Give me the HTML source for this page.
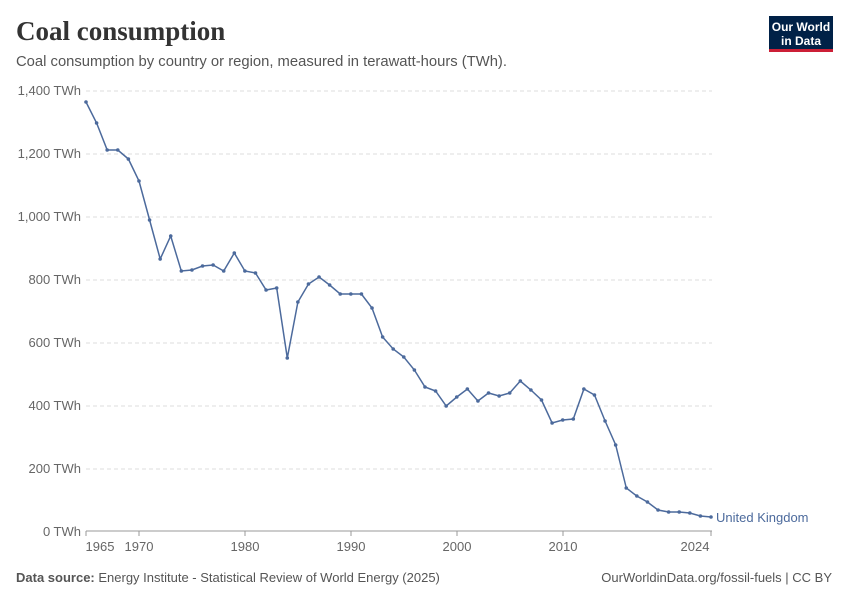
<!DOCTYPE html>
<html><head><meta charset="utf-8"><style>
body{margin:0;background:#fff;width:850px;height:600px;overflow:hidden;font-family:"Liberation Sans",sans-serif}
</style></head><body>
<svg width="850" height="600" xmlns="http://www.w3.org/2000/svg" font-family="Liberation Sans, sans-serif">
<text x="16" y="40" font-family="Liberation Serif, serif" font-size="27" font-weight="bold" fill="#333">Coal consumption</text>
<text x="16" y="66" font-size="14.8" fill="#555">Coal consumption by country or region, measured in terawatt-hours (TWh).</text>
<rect x="769" y="16" width="64" height="36" fill="#002147"/>
<rect x="769" y="49" width="64" height="3" fill="#cc1f36"/>
<text x="801" y="31" font-size="12" font-weight="bold" fill="#fff" text-anchor="middle">Our World</text>
<text x="801" y="45" font-size="12" font-weight="bold" fill="#fff" text-anchor="middle">in Data</text>
<g stroke="#ddd" stroke-dasharray="4,3">
<line x1="86" x2="712" y1="91" y2="91"/><line x1="86" x2="712" y1="154" y2="154"/><line x1="86" x2="712" y1="217" y2="217"/><line x1="86" x2="712" y1="280" y2="280"/><line x1="86" x2="712" y1="343" y2="343"/><line x1="86" x2="712" y1="406" y2="406"/><line x1="86" x2="712" y1="469" y2="469"/>
</g>
<line x1="86" x2="712" y1="531" y2="531" stroke="#999"/>
<g font-size="13" fill="#666" text-anchor="end">
<text x="81" y="95">1,400 TWh</text><text x="81" y="158">1,200 TWh</text><text x="81" y="221">1,000 TWh</text><text x="81" y="284">800 TWh</text><text x="81" y="347">600 TWh</text><text x="81" y="410">400 TWh</text><text x="81" y="473">200 TWh</text><text x="81" y="536">0 TWh</text>
</g>
<g font-size="13" fill="#666" text-anchor="middle">
<text x="100" y="551">1965</text><text x="139" y="551">1970</text><text x="245" y="551">1980</text><text x="351" y="551">1990</text><text x="457" y="551">2000</text><text x="563" y="551">2010</text><text x="695" y="551">2024</text>
</g>
<g stroke="#999"><line x1="139" x2="139" y1="531" y2="536"/><line x1="245" x2="245" y1="531" y2="536"/><line x1="351" x2="351" y1="531" y2="536"/><line x1="457" x2="457" y1="531" y2="536"/><line x1="563" x2="563" y1="531" y2="536"/><line x1="86" x2="86" y1="531" y2="536"/><line x1="711" x2="711" y1="531" y2="536"/></g>
<polyline id="p" fill="none" stroke="#4c6a9c" stroke-width="1.5" points=""/>
<g id="d" fill="#4c6a9c"></g>
<text x="716" y="522" font-size="13" fill="#4c6a9c">United Kingdom</text>
<text x="16" y="582" font-size="13" fill="#555"><tspan font-weight="bold">Data source:</tspan> Energy Institute - Statistical Review of World Energy (2025)</text>
<text x="832" y="582" font-size="13" fill="#555" text-anchor="end">OurWorldinData.org/fossil-fuels | CC BY</text>
</svg>
<script>
var ys=[102,123,150,150,159,181,220,259,236,271,270,266,265,271,253,271,273,290,288,358,302,284,277,285,294,294,294,308,337,349,357,370,387,391,406,397,389,401,393,396,393,381,390,400,423,420,419,389,395,421,445,488,496,502,510,512,512,513,516,517];
var pts=[],g=document.getElementById('d'),ns="http://www.w3.org/2000/svg";
ys.forEach(function(y,i){var x=86+i*(625/59);pts.push(x.toFixed(1)+","+y);var c=document.createElementNS(ns,'circle');c.setAttribute('cx',x);c.setAttribute('cy',y);c.setAttribute('r',1.8);g.appendChild(c);});
document.getElementById('p').setAttribute('points',pts.join(' '));
</script>
</body></html>
